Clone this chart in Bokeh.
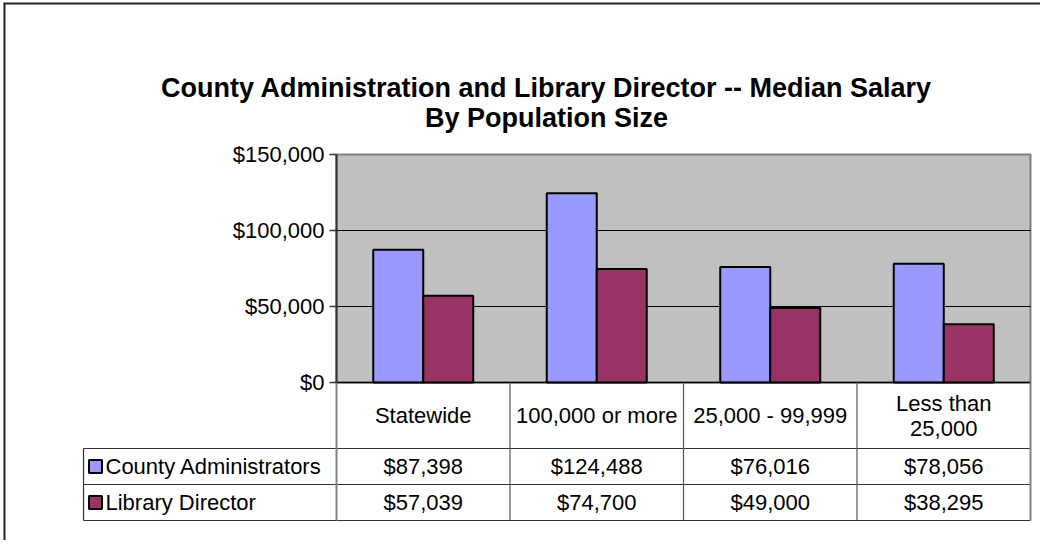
from bokeh.plotting import figure
from bokeh.models import Range1d, LinearAxis, FixedTicker, NumeralTickFormatter
from bokeh.core.properties import value
from bokeh.embed import file_html
from bokeh.resources import INLINE

# ---------------- data ----------------
categories = ["Statewide", "100,000 or more", "25,000 - 99,999", "Less than\n25,000"]
county_admin = [87398, 124488, 76016, 78056]
library_director = [57039, 74700, 49000, 38295]
series_names = ["County Administrators", "Library Director"]
series_colors = ["#9999FF", "#993366"]
y_ticks = [0, 50000, 100000, 150000]
title_lines = ["County Administration and Library Director -- Median Salary",
               "By Population Size"]

# ---------------- layout constants (figure pixels) ----------------
W, H = 1040, 540
X0_PX, COL_PX = 336, 173.5          # pixel of first category boundary, column width
YTOP_PX, YZERO_PX = 154, 382        # pixel of max tick, pixel of $0
YMAX = 150000
per_px = YMAX / (YZERO_PX - YTOP_PX)
HEADER_BOTTOM, ROW_H = 448, 36
LEG_LEFT_PX = 83
FONT = value("Liberation Sans")

n = len(categories)
p = figure(width=W, height=H, output_backend="svg", toolbar_location=None,
           x_range=Range1d(-X0_PX / COL_PX, (W - X0_PX) / COL_PX),
           y_range=Range1d(-(H - YZERO_PX) * per_px, YMAX + YTOP_PX * per_px),
           x_axis_type=None, y_axis_type=None, min_border=0,
           outline_line_color=None, background_fill_color="white",
           border_fill_color="white")
p.extra_x_ranges = {"px": Range1d(0, W)}
p.extra_y_ranges = {"px": Range1d(H, 0)}
p.grid.visible = False

# plot area
p.quad(left=[0], right=[n], bottom=[0], top=[YMAX], fill_color="#C0C0C0",
       line_color="#808080", line_width=2)
grid_vals = [t for t in y_ticks if 0 < t < YMAX]
p.segment(x0=[0] * len(grid_vals), x1=[n] * len(grid_vals), y0=grid_vals, y1=grid_vals,
          line_color="black", line_width=1)

# bars
bw = 50 / COL_PX
centers = [i + 0.5 for i in range(n)]
for k, (vals, col) in enumerate(zip([county_admin, library_director], series_colors)):
    xs = [c + (k - 0.5) * bw for c in centers]
    p.vbar(x=xs, top=vals, bottom=0, width=bw, fill_color=col, line_color="black", line_width=2)

p.segment(x0=[0], x1=[n], y0=[0], y1=[0], line_color="black", line_width=1.5)

# y axis
yaxis = LinearAxis(fixed_location=0, bounds=(0, YMAX),
                   ticker=FixedTicker(ticks=y_ticks, minor_ticks=[]),
                   formatter=NumeralTickFormatter(format="$0,0"))
yaxis.axis_line_color = "#333333"
yaxis.axis_line_width = 2
yaxis.major_tick_out = 7
yaxis.major_tick_in = 0
yaxis.major_tick_line_color = "#333333"
yaxis.major_tick_line_width = 1.5
yaxis.minor_tick_out = 0
yaxis.minor_tick_in = 0
yaxis.major_label_standoff = 5
yaxis.major_label_text_font = "Liberation Sans"
yaxis.major_label_text_font_size = "22px"
yaxis.major_label_text_color = "black"
p.add_layout(yaxis, "left")

# title
p.text(x=[546, 546], y=[87, 117], text=title_lines, x_range_name="px", y_range_name="px",
       text_font=FONT, text_font_size="27px", text_font_style="bold",
       text_align="center", text_baseline="middle", text_color="black")

# data table
leg_left = (LEG_LEFT_PX - X0_PX) / COL_PX
row_bottoms = [HEADER_BOTTOM + ROW_H * (r + 1) for r in range(len(series_names))]
hy = [HEADER_BOTTOM] + row_bottoms
p.segment(x0=[leg_left] * len(hy), x1=[n] * len(hy), y0=hy, y1=hy, y_range_name="px",
          line_color="#333333", line_width=1.2)
inner = list(range(1, n))
p.segment(x0=inner, x1=inner, y0=[YZERO_PX] * len(inner), y1=[row_bottoms[-1]] * len(inner),
          y_range_name="px", line_color="#555555", line_width=1.2)
p.segment(x0=[0, n], x1=[0, n], y0=[YZERO_PX] * 2, y1=[row_bottoms[-1]] * 2,
          y_range_name="px", line_color="#808080", line_width=2)
p.segment(x0=[leg_left], x1=[leg_left], y0=[HEADER_BOTTOM], y1=[row_bottoms[-1]],
          y_range_name="px", line_color="#333333", line_width=1.2)

# header labels
p.text(x=centers, y=[(YZERO_PX + HEADER_BOTTOM) / 2] * n, text=categories, y_range_name="px",
       text_font=FONT, text_font_size="22px", text_align="center", text_baseline="middle",
       text_color="black", text_line_height=1.0)

# value rows + legend keys
for r, (name, vals, col) in enumerate(zip(series_names, [county_admin, library_director], series_colors)):
    yc = HEADER_BOTTOM + ROW_H * (r + 0.5)
    p.text(x=centers, y=[yc] * n, text=[f"${v:,}" for v in vals], y_range_name="px",
           text_font=FONT, text_font_size="22px", text_align="center", text_baseline="middle",
           text_color="black")
    p.rect(x=[LEG_LEFT_PX + 12], y=[yc], width=13, height=13, x_range_name="px", y_range_name="px",
           fill_color=col, line_color="black", line_width=2)
    p.text(x=[LEG_LEFT_PX + 22], y=[yc], text=[name], x_range_name="px", y_range_name="px",
           text_font=FONT, text_font_size="22px", text_align="left", text_baseline="middle",
           text_color="black")

# outer chart border (left / top)
p.segment(x0=[4, 3], x1=[4, W], y0=[3, 3], y1=[H, 3], x_range_name="px", y_range_name="px",
          line_color="#222222", line_width=2)

open("out.html", "w").write(file_html(p, INLINE))
